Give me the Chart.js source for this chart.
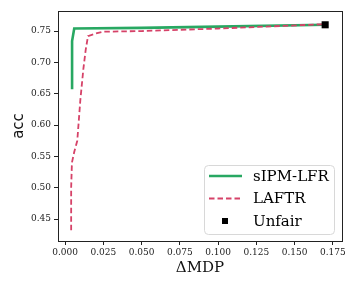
<!DOCTYPE html>
<html><head><meta charset="utf-8">
<script src="https://cdn.jsdelivr.net/npm/chart.js@4/dist/chart.umd.min.js"></script>
<style>html,body{margin:0;padding:0;background:#fff}#w{width:360px;height:288px}</style>
</head><body><div id="w"><canvas id="c" width="360" height="288"></canvas></div>
<script>
const seriesNames = ['sIPM-LFR', 'LAFTR', 'Unfair'];
const sipmX = [0.0046, 0.0046, 0.006, 0.05, 0.10, 0.17];
const sipmY = [0.657, 0.734, 0.754, 0.755, 0.757, 0.760];
const laftrX = [0.004, 0.004, 0.0045, 0.006, 0.008, 0.010, 0.012, 0.0135, 0.015, 0.020, 0.025, 0.05, 0.10, 0.17];
const laftrY = [0.432, 0.500, 0.540, 0.557, 0.575, 0.640, 0.690, 0.720, 0.742, 0.746, 0.749, 0.750, 0.754, 0.761];
const unfairX = [0.170];
const unfairY = [0.760];
const xTicks = [0.000, 0.025, 0.050, 0.075, 0.100, 0.125, 0.150, 0.175];
const yTicks = [0.45, 0.50, 0.55, 0.60, 0.65, 0.70, 0.75];
const xTitle = 'ΔMDP';
const yTitle = 'acc';

const GREEN = 'rgb(40,168,98)';
const RED = 'rgb(214,66,104)';
const FONT = "'DejaVu Serif', serif";
const SANS = "'DejaVu Sans', sans-serif";

const pts = (xs, ys) => xs.map((x, i) => ({x, y: ys[i]}));

const frame = {
  id: 'frame',
  afterDatasetsDraw(chart) {
    const {ctx, chartArea: a} = chart;
    ctx.save();
    ctx.strokeStyle = '#222';
    ctx.lineWidth = 1;
    ctx.strokeRect(Math.round(a.left) + 0.5, Math.round(a.top) + 0.5, Math.round(a.right - a.left), Math.round(a.bottom - a.top));
    ctx.restore();
  },
  afterDraw(chart) {
    const {ctx} = chart;
    ctx.save();
    const bx = 204.5, by = 165.5, bw = 130, bh = 69, r = 4;
    ctx.beginPath();
    ctx.moveTo(bx + r, by);
    ctx.arcTo(bx + bw, by, bx + bw, by + bh, r);
    ctx.arcTo(bx + bw, by + bh, bx, by + bh, r);
    ctx.arcTo(bx, by + bh, bx, by, r);
    ctx.arcTo(bx, by, bx + bw, by, r);
    ctx.closePath();
    ctx.fillStyle = 'rgba(255,255,255,0.8)';
    ctx.fill();
    ctx.strokeStyle = '#d8d8d8';
    ctx.lineWidth = 1;
    ctx.stroke();
    const rows = [176, 198.5, 221];
    const ds = chart.data.datasets;
    ctx.font = '15px ' + FONT;
    ctx.textBaseline = 'middle';
    ctx.textAlign = 'left';
    ctx.strokeStyle = ds[0].borderColor; ctx.lineWidth = 2.5; ctx.setLineDash([]);
    ctx.beginPath(); ctx.moveTo(209, rows[0]); ctx.lineTo(242, rows[0]); ctx.stroke();
    ctx.strokeStyle = ds[1].borderColor; ctx.lineWidth = 1.8; ctx.setLineDash([5.5, 3]);
    ctx.beginPath(); ctx.moveTo(209, rows[1]); ctx.lineTo(242, rows[1]); ctx.stroke();
    ctx.setLineDash([]);
    ctx.fillStyle = '#000';
    ctx.fillRect(222, rows[2] - 3, 6, 6);
    ds.forEach((d, i) => ctx.fillText(d.label, 253, rows[i] + 1));
    ctx.restore();
  }
};

new Chart(document.getElementById('c'), {
  type: 'scatter',
  data: {
    datasets: [
      {label: seriesNames[0], data: pts(sipmX, sipmY), showLine: true, borderColor: GREEN, borderWidth: 2.6, pointRadius: 0, order: 3, tension: 0},
      {label: seriesNames[1], data: pts(laftrX, laftrY), showLine: true, borderColor: RED, borderWidth: 1.8, borderDash: [5.5, 3], pointRadius: 0, order: 2, tension: 0},
      {label: seriesNames[2], data: pts(unfairX, unfairY), showLine: false, pointStyle: 'rect', pointRadius: 5, backgroundColor: '#000', borderColor: '#000', borderWidth: 0, order: 1}
    ]
  },
  options: {
    responsive: false,
    animation: false,
    events: [],
    layout: {padding: {left: 10, top: 11, right: 18, bottom: 11}},
    plugins: {legend: {display: false}, tooltip: {enabled: false}},
    scales: {
      x: {
        type: 'linear', min: -0.0046, max: 0.181,
        afterBuildTicks: s => { s.ticks = xTicks.map(v => ({value: v})); },
        afterFit: s => { s.height = 36; },
        grid: {display: true, drawOnChartArea: false, drawTicks: true, tickLength: 4, color: '#222'},
        border: {display: true, color: '#222'},
        ticks: {color: '#222', font: {family: FONT, size: 9}, padding: 2, maxRotation: 0, autoSkip: false,
                callback: v => Number(v).toFixed(3)},
        title: {display: true, text: xTitle, color: '#111', font: {family: FONT, size: 15}, padding: {top: 2, bottom: 0}}
      },
      y: {
        type: 'linear', min: 0.415, max: 0.782,
        afterBuildTicks: s => { s.ticks = yTicks.map(v => ({value: v})); },
        afterFit: s => { s.width = 48; },
        grid: {display: true, drawOnChartArea: false, drawTicks: true, tickLength: 4, color: '#222'},
        border: {display: true, color: '#222'},
        ticks: {color: '#222', font: {family: FONT, size: 9}, padding: 3, autoSkip: false,
                callback: v => Number(v).toFixed(2)},
        title: {display: true, text: yTitle, color: '#111', font: {family: SANS, size: 15}, padding: {top: 0, bottom: 4}}
      }
    }
  },
  plugins: [frame]
});
</script></body></html>
